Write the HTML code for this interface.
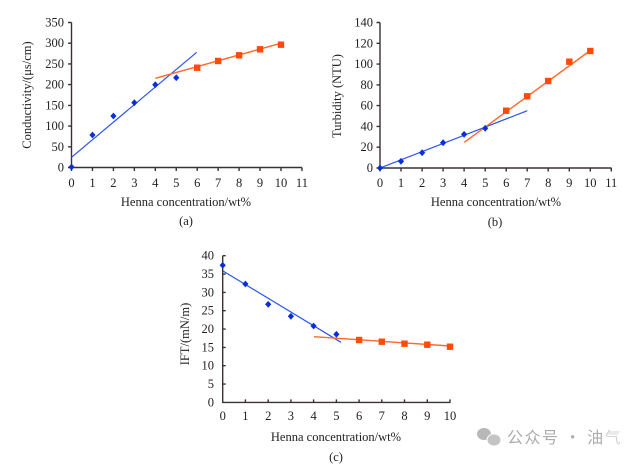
<!DOCTYPE html>
<html><head><meta charset="utf-8"><style>
html,body{margin:0;padding:0;background:#fff;}
svg{display:block;}
text{font-family:"Liberation Serif","Times New Roman",serif;fill:#222;}
</style></head><body>
<svg width="641" height="465" viewBox="0 0 641 465" xmlns="http://www.w3.org/2000/svg">
<rect width="641" height="465" fill="#fff"/>
<defs>
<path id="d" d="M0,-3.4 L3.1,0 L0,3.4 L-3.1,0 Z" fill="#0a2fd8"/>
<rect id="s" x="-3.2" y="-3.2" width="6.4" height="6.4" fill="#ff4a0a"/>
</defs>

<!-- ===== Chart (a) ===== -->
<g stroke="#3a3232" stroke-width="1.4" fill="none">
<path d="M71.5,22.5 V167.5 H302"/>
<path d="M68,22.5H71.5M68,43.2H71.5M68,63.9H71.5M68,84.6H71.5M68,105.4H71.5M68,126.1H71.5M68,146.8H71.5M68,167.5H71.5"/>
<path d="M71.5,167.5v3.5M92.45,167.5v3.5M113.4,167.5v3.5M134.35,167.5v3.5M155.3,167.5v3.5M176.25,167.5v3.5M197.2,167.5v3.5M218.15,167.5v3.5M239.1,167.5v3.5M260.05,167.5v3.5M281,167.5v3.5M301.95,167.5v3.5"/>
</g>
<g font-size="12.5" text-anchor="end">
<text x="64" y="26.5">350</text><text x="64" y="47.2">300</text><text x="64" y="67.9">250</text><text x="64" y="88.6">200</text><text x="64" y="109.4">150</text><text x="64" y="130.1">100</text><text x="64" y="150.8">50</text><text x="64" y="171.5">0</text>
</g>
<g font-size="12.5" text-anchor="middle">
<text x="71.5" y="187">0</text><text x="92.45" y="187">1</text><text x="113.4" y="187">2</text><text x="134.35" y="187">3</text><text x="155.3" y="187">4</text><text x="176.25" y="187">5</text><text x="197.2" y="187">6</text><text x="218.15" y="187">7</text><text x="239.1" y="187">8</text><text x="260.05" y="187">9</text><text x="281" y="187">10</text><text x="301.95" y="187">11</text>
<text x="186" y="206">Henna concentration/wt%</text>
<text x="186" y="225">(a)</text>
</g>
<text font-size="12.5" text-anchor="middle" transform="translate(31,95) rotate(-90)">Conductivity/(μs/cm)</text>
<line x1="71.5" y1="157.3" x2="196.7" y2="52.3" stroke="#2a55ee" stroke-width="1.2"/>
<line x1="155.3" y1="78.3" x2="280.7" y2="43.3" stroke="#ff6a2a" stroke-width="1.4"/>
<use href="#d" x="71.5" y="167"/><use href="#d" x="92.45" y="135"/><use href="#d" x="113.4" y="116"/><use href="#d" x="134.35" y="102.7"/><use href="#d" x="155.3" y="84.7"/><use href="#d" x="176.25" y="77.7"/>
<use href="#s" x="197.2" y="67.7"/><use href="#s" x="218.15" y="61"/><use href="#s" x="239.1" y="55.3"/><use href="#s" x="260.05" y="49.3"/><use href="#s" x="281" y="44.7"/>

<!-- ===== Chart (b) ===== -->
<g stroke="#3a3232" stroke-width="1.4" fill="none">
<path d="M380,22.5 V168 H611.5"/>
<path d="M376.5,22.5H380M376.5,43.3H380M376.5,64.1H380M376.5,84.9H380M376.5,105.6H380M376.5,126.4H380M376.5,147.2H380M376.5,168H380"/>
<path d="M380,168v3.5M401,168v3.5M422.1,168v3.5M443.1,168v3.5M464.1,168v3.5M485.2,168v3.5M506.2,168v3.5M527.2,168v3.5M548.2,168v3.5M569.3,168v3.5M590.3,168v3.5M611.3,168v3.5"/>
</g>
<g font-size="12.5" text-anchor="end">
<text x="373" y="26.5">140</text><text x="373" y="47.3">120</text><text x="373" y="68.1">100</text><text x="373" y="88.9">80</text><text x="373" y="109.6">60</text><text x="373" y="130.4">40</text><text x="373" y="151.2">20</text><text x="373" y="172">0</text>
</g>
<g font-size="12.5" text-anchor="middle">
<text x="380" y="187">0</text><text x="401" y="187">1</text><text x="422.1" y="187">2</text><text x="443.1" y="187">3</text><text x="464.1" y="187">4</text><text x="485.2" y="187">5</text><text x="506.2" y="187">6</text><text x="527.2" y="187">7</text><text x="548.2" y="187">8</text><text x="569.3" y="187">9</text><text x="590.3" y="187">10</text><text x="611.3" y="187">11</text>
<text x="496" y="206">Henna concentration/wt%</text>
<text x="495" y="226">(b)</text>
</g>
<text font-size="12.5" text-anchor="middle" transform="translate(341,96) rotate(-90)">Turbidity (NTU)</text>
<line x1="380" y1="168" x2="527.3" y2="110.7" stroke="#2a55ee" stroke-width="1.2"/>
<line x1="464.3" y1="142.3" x2="591" y2="50" stroke="#ff6a2a" stroke-width="1.4"/>
<use href="#d" x="380" y="168"/><use href="#d" x="401" y="161.3"/><use href="#d" x="422.1" y="152.7"/><use href="#d" x="443.1" y="142.7"/><use href="#d" x="464.1" y="134.3"/><use href="#d" x="485.2" y="128.3"/>
<use href="#s" x="506.2" y="110.7"/><use href="#s" x="527.2" y="96.3"/><use href="#s" x="548.2" y="81"/><use href="#s" x="569.3" y="61.7"/><use href="#s" x="590.3" y="51"/>

<!-- ===== Chart (c) ===== -->
<g stroke="#3a3232" stroke-width="1.4" fill="none">
<path d="M222.7,255.7 V402.4 H450.5"/>
<path d="M222.7,255.7h3M222.7,274.1h3M222.7,292.4h3M222.7,310.7h3M222.7,329.1h3M222.7,347.4h3M222.7,365.7h3M222.7,384.1h3"/>
<path d="M245.4,402.4v-3M268.2,402.4v-3M290.9,402.4v-3M313.6,402.4v-3M336.4,402.4v-3M359.1,402.4v-3M381.8,402.4v-3M404.5,402.4v-3M427.3,402.4v-3M450,402.4v-3"/>
</g>
<g font-size="12.5" text-anchor="end">
<text x="214" y="259.7">40</text><text x="214" y="278.1">35</text><text x="214" y="296.4">30</text><text x="214" y="314.7">25</text><text x="214" y="333.1">20</text><text x="214" y="351.4">15</text><text x="214" y="369.7">10</text><text x="214" y="388.1">5</text><text x="214" y="406.4">0</text>
</g>
<g font-size="12.5" text-anchor="middle">
<text x="222.7" y="420">0</text><text x="245.4" y="420">1</text><text x="268.2" y="420">2</text><text x="290.9" y="420">3</text><text x="313.6" y="420">4</text><text x="336.4" y="420">5</text><text x="359.1" y="420">6</text><text x="381.8" y="420">7</text><text x="404.5" y="420">8</text><text x="427.3" y="420">9</text><text x="450" y="420">10</text>
<text x="336" y="441">Henna concentration/wt%</text>
<text x="336" y="461">(c)</text>
</g>
<text font-size="12.5" text-anchor="middle" transform="translate(189,334) rotate(-90)">IFT/(mN/m)</text>
<line x1="223" y1="271" x2="341" y2="342.3" stroke="#2a55ee" stroke-width="1.2"/>
<line x1="314" y1="336.7" x2="450" y2="346" stroke="#ff6a2a" stroke-width="1.4"/>
<use href="#d" x="222.7" y="265.3"/><use href="#d" x="245.4" y="284"/><use href="#d" x="268.2" y="304.3"/><use href="#d" x="290.9" y="316.3"/><use href="#d" x="313.6" y="326"/><use href="#d" x="336.4" y="334.3"/>
<use href="#s" x="359.1" y="340"/><use href="#s" x="381.8" y="341.7"/><use href="#s" x="404.5" y="343.7"/><use href="#s" x="427.3" y="344.7"/><use href="#s" x="450" y="346.7"/>

<!-- ===== Watermark ===== -->
<g fill="#b8b8b8">
<ellipse cx="484" cy="434" rx="7" ry="6"/>
<ellipse cx="494" cy="440" rx="7" ry="6" fill="#c4c4c4" stroke="#fff" stroke-width="1"/>
</g>
<text x="507" y="443" font-size="16" letter-spacing="1.5" style="font-family:'Noto Sans CJK SC','WenQuanYi Zen Hei',sans-serif;fill:#ababab;">公众号 · 油<tspan style="fill:#d4d4d4">气</tspan></text>
</svg>
</body></html>
